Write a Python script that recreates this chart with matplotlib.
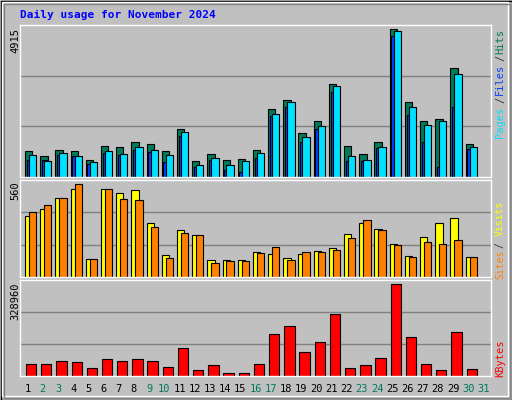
import matplotlib
matplotlib.use("Agg")
import matplotlib.pyplot as plt
from matplotlib.patches import Rectangle

days = [str(d) for d in range(1, 32)]
weekend = [2, 3, 9, 10, 16, 17, 23, 24, 30, 31]
hits = [856, 690, 912, 878, 578, 1045, 1012, 1179, 1112, 878, 1612, 545, 778, 578, 612, 912,
        2280, 2558, 1479, 1879, 3080, 1045, 778, 1179, 4915, 2513, 1879, 1946, 3614, 1112]
files = [556, 578, 723, 712, 423, 812, 745, 912, 845, 512, 1379, 345, 578, 245, 178, 645,
         2046, 2346, 1179, 1612, 2813, 545, 545, 979, 4682, 2080, 1179, 345, 2346, 945]
pages = [745, 545, 812, 712, 512, 878, 778, 1012, 912, 745, 1512, 411, 645, 411, 545, 812,
         2113, 2480, 1346, 1712, 3013, 712, 578, 1012, 4848, 2346, 1746, 1879, 3414, 1012]
sites = [371, 410, 475, 530, 110, 530, 505, 523, 329, 134, 286, 256, 103, 103, 103, 152,
         140, 116, 140, 158, 177, 262, 329, 292, 201, 128, 243, 329, 359, 122]
visits = [390, 438, 475, 560, 110, 530, 469, 463, 304, 116, 268, 256, 85, 97, 97, 146,
          183, 103, 152, 152, 164, 237, 347, 286, 195, 122, 213, 201, 225, 122]
kbytes = [44260, 44260, 55025, 51437, 29905, 62202, 55025, 62202, 55025, 33494, 101677, 22728,
          40671, 11962, 11962, 44260, 151917, 177038, 87323, 123209, 220101, 29905, 40671,
          65791, 328960, 141152, 44260, 22728, 159095, 26316]

W, H = 512, 400
fig = plt.figure(figsize=(W / 100, H / 100), dpi=100)
fig.patch.set_facecolor("#c0c0c0")

def ax_at(x0, y0, x1, y1):
    return fig.add_axes([x0 / W, 1 - y1 / H, (x1 - x0) / W, (y1 - y0) / H])

mono = "DejaVu Sans Mono"
X0, X1 = 20, 491
panels = [(25, 177), (180, 277), (280, 376)]
axes = [ax_at(X0, a, X1, b) for a, b in panels]
for ax in axes:
    ax.set_facecolor("#c0c0c0")
    ax.set_xlim(0, 31)
    ax.set_xticks([]); ax.set_yticks([])
    for s in ax.spines.values():
        s.set_color("white"); s.set_linewidth(1)
    ax.set_axisbelow(True)

n = len(hits)
xs = list(range(n))
ekw = dict(edgecolor="black", linewidth=0.8, align="edge")

a = axes[0]
top = 4915 * 455 / 442
a.set_ylim(0, top)
for g in (top / 3, 2 * top / 3):
    a.axhline(g, color="#808080", lw=1, zorder=0)
a.bar([x + 0.33 for x in xs], hits, 0.48, color="#007a5a", **ekw)
a.bar([x + 0.44 for x in xs], files, 0.4, color="#0040ff", **ekw)
a.bar([x + 0.59 for x in xs], pages, 0.48, color="#00e0ff", **ekw)

a = axes[1]
top = 560 * 289 / 276
a.set_ylim(0, top)
for g in (top / 3, 2 * top / 3):
    a.axhline(g, color="#808080", lw=1, zorder=0)
a.bar([x + 0.33 for x in xs], sites, 0.48, color="#ffff00", **ekw)
a.bar([x + 0.59 for x in xs], visits, 0.48, color="#ff8000", **ekw)

a = axes[2]
top = 328960 * 287 / 275
a.set_ylim(0, top)
for g in (top / 3, 2 * top / 3):
    a.axhline(g, color="#808080", lw=1, zorder=0)
a.bar([x + 0.39 for x in xs], kbytes, 0.68, color="#ff0000", **ekw)

# day labels
for i, d in enumerate(days):
    c = "#007a5a" if (i + 1) in weekend else "black"
    fig.text((X0 + (i + 0.5) * 471 / 31) / W, 1 - 389 / H, d, ha="center", va="center",
             fontsize=7.5, family=mono, color=c)

# title
fig.text(20 / W, 1 - 15 / H, "Daily usage for November 2024", ha="left", va="center",
         fontsize=8, family=mono, weight="bold", color="#0000ff")

# y max labels
for txt, ytop in [("4915", 28), ("560", 181), ("328960", 282)]:
    fig.text(15 / W, 1 - ytop / H, txt, rotation=90, ha="center", va="top",
             fontsize=7.5, family=mono, color="black")

# right legends
def rtext(t, yc, col, fs=7.5):
    fig.text(500 / W, 1 - yc / H, t, rotation=90, ha="center", va="center",
             fontsize=fs, family=mono, color=col)
rtext("Hits", 41, "#007a5a"); rtext("/", 58, "#333333"); rtext("Files", 79, "#0040ff")
rtext("/", 100, "#333333"); rtext("Pages", 122, "#00e0ff")
rtext("Visits", 218, "#ffff00", 7); rtext("/", 245, "#333333", 7); rtext("Sites", 264, "#ff8000", 7)
rtext("KBytes", 358, "#ff0000")

# outer bevel
fig.add_artist(Rectangle((0.5 / W, 0.5 / H), 1 - 1 / W, 1 - 1 / H, transform=fig.transFigure,
                         fill=False, edgecolor="black", lw=1))
fig.add_artist(Rectangle((2 / W, 4 / H), 1 - 6 / W, 1 - 6 / H, transform=fig.transFigure,
                         fill=False, edgecolor="white", lw=1))
fig.add_artist(Rectangle((4 / W, 2 / H), 1 - 6 / W, 1 - 6 / H, transform=fig.transFigure,
                         fill=False, edgecolor="#808080", lw=1))

fig.savefig("out.png", dpi=100, facecolor=fig.get_facecolor())
